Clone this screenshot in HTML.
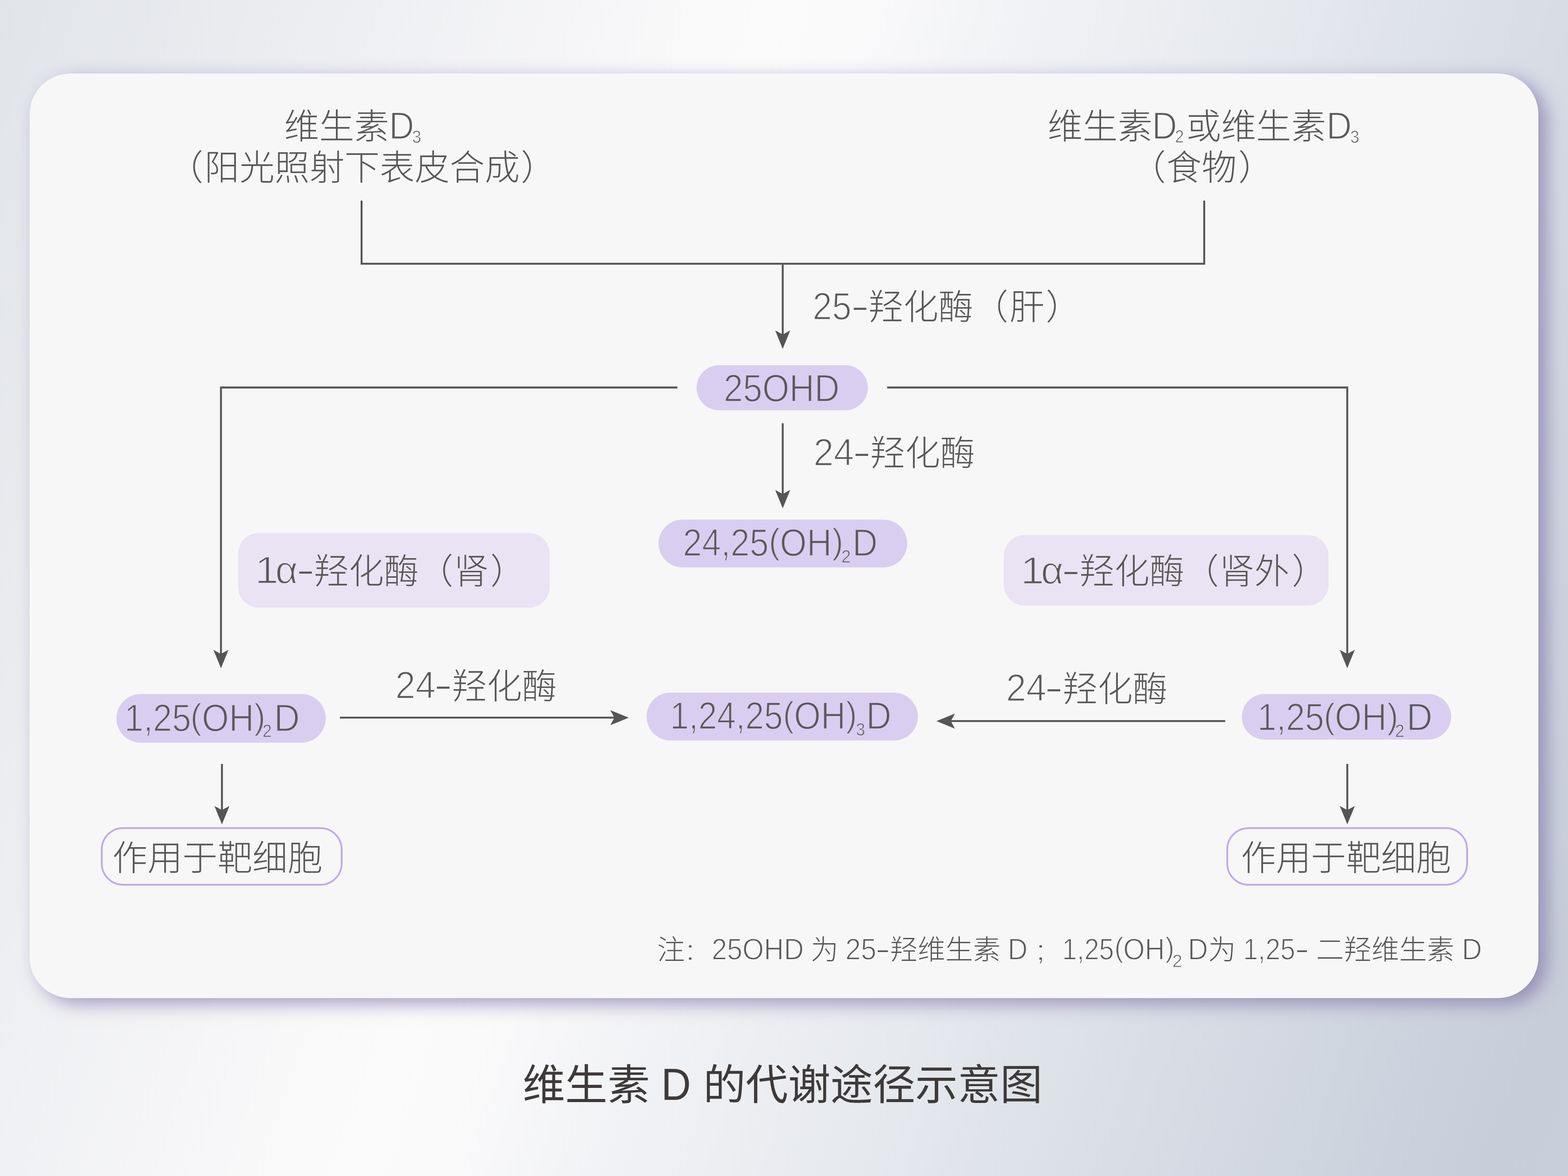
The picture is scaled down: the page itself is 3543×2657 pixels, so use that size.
<!DOCTYPE html>
<html lang="zh-CN">
<head>
<meta charset="utf-8">
<title>维生素 D 的代谢途径示意图</title>
<style>
html,body{margin:0;padding:0;background:#e9ebef}
body{width:3543px;height:2657px;overflow:hidden}
#stage{position:relative;width:3543px;height:2657px;overflow:hidden;font-family:"Liberation Sans","Noto Sans CJK SC",sans-serif;color:#595757;
background:linear-gradient(110deg,#e1e4e9 0%,#f6f6f8 30%,#fbfbfb 38.7%,#fafafb 43%,#f1f2f5 52%,#e5e8ed 65.3%,#d7dce5 78.6%,#cad1dc 92%,#c7ced9 96%,#c8cfda 100%)}
.card{position:absolute;left:67px;top:166px;width:3409px;height:2089px;border-radius:92px;background:#f7f7f7;
box-shadow:18px 13px 40px rgba(118,102,162,.62)}
.p{position:absolute;background:#d9cef0}
.q{background:#eae3f3}
.o{position:absolute;box-sizing:border-box;border:4px solid #c0abe6;border-radius:50px}
.w{position:absolute;left:0;top:0}
.c{position:absolute;overflow:visible;fill:#595757;stroke:none;font-family:"Liberation Sans","Noto Sans CJK SC",sans-serif;font-size:1000px;font-weight:300}
.t{fill:#3e3a39;font-weight:400}
.l{position:absolute;white-space:nowrap;line-height:1;transform-origin:0 0;font-kerning:none;font-variant-ligatures:none;will-change:transform}
.n{-webkit-text-stroke:0.026em var(--bg,#f7f7f7)}
</style>
</head>
<body>
<div id="stage">
<div class="card"></div>
<div class="p" style="left:1574.0px;top:825.0px;width:387.0px;height:102.0px;border-radius:51.0px"></div>
<div class="p" style="left:1487.6px;top:1174.2px;width:562.0px;height:107.7px;border-radius:54.0px"></div>
<div class="p" style="left:262.5px;top:1567.5px;width:473.3px;height:110.7px;border-radius:55.5px"></div>
<div class="p" style="left:1460.6px;top:1565.1px;width:613.1px;height:107.9px;border-radius:54.0px"></div>
<div class="p" style="left:2805.9px;top:1567.8px;width:473.3px;height:103.0px;border-radius:51.5px"></div>
<div class="p q" style="left:538.4px;top:1203.9px;width:703.3px;height:169.2px;border-radius:47.0px"></div>
<div class="p q" style="left:2267.9px;top:1208.7px;width:733.8px;height:159.0px;border-radius:47.0px"></div>
<div class="o" style="left:228.2px;top:1868.8px;width:546px;height:132.1px"></div>
<div class="o" style="left:2771.2px;top:1868.8px;width:545.7px;height:132.1px"></div>
<svg class="w" width="3543" height="2657" viewBox="0 0 3543 2657"><g fill="none" stroke="#565455" stroke-width="4.3" stroke-linejoin="miter"><path d="M817,453.2 V595.8 H2721 V453.2"/><path d="M1768.6,595.8 V758"/><path d="M1530.6,875.5 H499.3 V1480"/><path d="M2004.5,875.5 H3044.2 V1480"/><path d="M1768.6,956.3 V1119"/><path d="M768,1621.4 H1391"/><path d="M2768.5,1629.2 H2146"/><path d="M501.5,1726 V1833"/><path d="M3044.3,1726 V1833"/></g><g fill="#565455"><path d="M1768.6,788.2 l-17,-41.6 l17,9.2 l17,-9.2z"/><path d="M499.3,1509.8 l-17,-41.6 l17,9.2 l17,-9.2z"/><path d="M3044.2,1509.8 l-17,-41.6 l17,9.2 l17,-9.2z"/><path d="M1768.6,1148.6 l-17,-41.6 l17,9.2 l17,-9.2z"/><path d="M1420.7,1621.4 l-41.6,-17 l9.2,17 l-9.2,17z"/><path d="M2116.1,1629.2 l41.6,-17 l-9.2,17 l9.2,17z"/><path d="M501.5,1862.6 l-17,-41.6 l17,9.2 l17,-9.2z"/><path d="M3044.3,1862.6 l-17,-41.6 l17,9.2 l17,-9.2z"/></g></svg>
<svg class="c" style="left:641.70px;top:243.93px;width:237.51px;height:79.17px" viewBox="0 -880 3000 1000"><text x="0" y="0">维生素</text></svg>
<span class="l n" style="left:878.73px;top:240.57px;font-size:87.60px;transform:scaleX(0.8971)">D</span>
<span class="l n" style="left:930.98px;top:289.44px;font-size:40.50px;transform:scaleX(0.9257)">3</span>
<svg class="c" style="left:380.07px;top:337.33px;width:79.17px;height:79.17px" viewBox="0 -880 1000 1000"><text x="0" y="0">（</text></svg>
<svg class="c" style="left:462.48px;top:337.33px;width:712.53px;height:79.17px" viewBox="0 -880 9000 1000"><text x="0" y="0">阳光照射下表皮合成</text></svg>
<svg class="c" style="left:1176.56px;top:337.33px;width:79.17px;height:79.17px" viewBox="0 -880 1000 1000"><text x="0" y="0">）</text></svg>
<svg class="c" style="left:2366.50px;top:243.93px;width:237.51px;height:79.17px" viewBox="0 -880 3000 1000"><text x="0" y="0">维生素</text></svg>
<span class="l n" style="left:2603.45px;top:240.57px;font-size:87.60px;transform:scaleX(0.8950)">D</span>
<span class="l n" style="left:2655.02px;top:288.14px;font-size:40.50px;transform:scaleX(0.8909)">2</span>
<svg class="c" style="left:2680.46px;top:243.93px;width:316.68px;height:79.17px" viewBox="0 -880 4000 1000"><text x="0" y="0">或维生素</text></svg>
<span class="l n" style="left:2997.15px;top:240.57px;font-size:87.60px;transform:scaleX(0.9071)">D</span>
<span class="l n" style="left:3050.54px;top:289.44px;font-size:40.50px;transform:scaleX(0.8981)">3</span>
<svg class="c" style="left:2554.97px;top:337.33px;width:79.17px;height:79.17px" viewBox="0 -880 1000 1000"><text x="0" y="0">（</text></svg>
<svg class="c" style="left:2635.50px;top:337.33px;width:158.34px;height:79.17px" viewBox="0 -880 2000 1000"><text x="0" y="0">食物</text></svg>
<svg class="c" style="left:2798.16px;top:337.33px;width:79.17px;height:79.17px" viewBox="0 -880 1000 1000"><text x="0" y="0">）</text></svg>
<span class="l n" style="left:1836.20px;top:648.97px;font-size:87.60px;transform:scaleX(0.9027)">25</span>
<span class="l" style="left:1924.11px;top:663.79px;font-size:58.88px;transform:scaleX(1.9826)">-</span>
<svg class="c" style="left:1962.46px;top:652.33px;width:237.51px;height:79.17px" viewBox="0 -880 3000 1000"><text x="0" y="0">羟化酶</text></svg>
<svg class="c" style="left:2198.77px;top:652.33px;width:79.17px;height:79.17px" viewBox="0 -880 1000 1000"><text x="0" y="0">（</text></svg>
<svg class="c" style="left:2280.63px;top:652.33px;width:79.17px;height:79.17px" viewBox="0 -880 1000 1000"><text x="0" y="0">肝</text></svg>
<svg class="c" style="left:2362.86px;top:652.33px;width:79.17px;height:79.17px" viewBox="0 -880 1000 1000"><text x="0" y="0">）</text></svg>
<span class="l n" style="left:1634.73px;top:833.87px;font-size:87.60px;transform:scaleX(0.8971);--bg:#d9cef0">25OHD</span>
<span class="l n" style="left:1838.49px;top:978.97px;font-size:87.60px;transform:scaleX(0.9389)">24</span>
<span class="l" style="left:1928.01px;top:993.79px;font-size:58.88px;transform:scaleX(1.9826)">-</span>
<svg class="c" style="left:1966.36px;top:982.33px;width:237.51px;height:79.17px" viewBox="0 -880 3000 1000"><text x="0" y="0">羟化酶</text></svg>
<span class="l n" style="left:892.89px;top:1505.17px;font-size:87.60px;transform:scaleX(0.9389)">24</span>
<span class="l" style="left:982.41px;top:1519.99px;font-size:58.88px;transform:scaleX(1.9826)">-</span>
<svg class="c" style="left:1020.76px;top:1508.53px;width:237.51px;height:79.17px" viewBox="0 -880 3000 1000"><text x="0" y="0">羟化酶</text></svg>
<span class="l n" style="left:2272.79px;top:1511.37px;font-size:87.60px;transform:scaleX(0.9389)">24</span>
<span class="l" style="left:2362.31px;top:1526.19px;font-size:58.88px;transform:scaleX(1.9826)">-</span>
<svg class="c" style="left:2400.66px;top:1514.73px;width:237.51px;height:79.17px" viewBox="0 -880 3000 1000"><text x="0" y="0">羟化酶</text></svg>
<span class="l n" style="left:1542.90px;top:1182.57px;font-size:87.60px;transform:scaleX(0.8844);--bg:#d9cef0">24,25</span>
<span class="l n" style="left:1736.83px;top:1181.73px;font-size:80.14px;transform:scaleX(0.9598);--bg:#d9cef0">(</span>
<span class="l n" style="left:1762.14px;top:1182.57px;font-size:87.60px;transform:scaleX(0.8928);--bg:#d9cef0">OH</span>
<span class="l n" style="left:1880.05px;top:1181.73px;font-size:80.14px;transform:scaleX(0.9598);--bg:#d9cef0">)</span>
<span class="l n" style="left:1900.65px;top:1237.34px;font-size:40.50px;transform:scaleX(0.9542);--bg:#d9cef0">2</span>
<span class="l n" style="left:1926.30px;top:1182.57px;font-size:87.60px;transform:scaleX(0.9011);--bg:#d9cef0">D</span>
<span class="l n" style="left:575.91px;top:1245.27px;font-size:87.60px;transform:scaleX(1.0962);--bg:#eae3f3">1</span>
<span class="l n" style="left:622.23px;top:1245.27px;font-size:87.60px;transform:scaleX(1.0103);--bg:#eae3f3">α</span>
<span class="l" style="left:671.31px;top:1260.09px;font-size:58.88px;transform:scaleX(1.9826)">-</span>
<svg class="c" style="left:709.06px;top:1248.63px;width:237.51px;height:79.17px" viewBox="0 -880 3000 1000"><text x="0" y="0">羟化酶</text></svg>
<svg class="c" style="left:944.67px;top:1248.63px;width:79.17px;height:79.17px" viewBox="0 -880 1000 1000"><text x="0" y="0">（</text></svg>
<svg class="c" style="left:1024.98px;top:1248.63px;width:79.17px;height:79.17px" viewBox="0 -880 1000 1000"><text x="0" y="0">肾</text></svg>
<svg class="c" style="left:1108.46px;top:1248.63px;width:79.17px;height:79.17px" viewBox="0 -880 1000 1000"><text x="0" y="0">）</text></svg>
<span class="l n" style="left:2305.91px;top:1245.87px;font-size:87.60px;transform:scaleX(1.0962);--bg:#eae3f3">1</span>
<span class="l n" style="left:2352.23px;top:1245.87px;font-size:87.60px;transform:scaleX(1.0103);--bg:#eae3f3">α</span>
<span class="l" style="left:2400.12px;top:1260.69px;font-size:58.88px;transform:scaleX(2.0174)">-</span>
<svg class="c" style="left:2439.06px;top:1249.23px;width:237.51px;height:79.17px" viewBox="0 -880 3000 1000"><text x="0" y="0">羟化酶</text></svg>
<svg class="c" style="left:2674.67px;top:1249.23px;width:79.17px;height:79.17px" viewBox="0 -880 1000 1000"><text x="0" y="0">（</text></svg>
<svg class="c" style="left:2754.78px;top:1249.23px;width:158.34px;height:79.17px" viewBox="0 -880 2000 1000"><text x="0" y="0">肾外</text></svg>
<svg class="c" style="left:2918.56px;top:1249.23px;width:79.17px;height:79.17px" viewBox="0 -880 1000 1000"><text x="0" y="0">）</text></svg>
<span class="l n" style="left:280.64px;top:1578.77px;font-size:87.60px;transform:scaleX(0.8846);--bg:#d9cef0">1,25</span>
<span class="l n" style="left:430.30px;top:1577.50px;font-size:80.60px;transform:scaleX(0.9598);--bg:#d9cef0">(</span>
<span class="l n" style="left:455.75px;top:1578.77px;font-size:87.60px;transform:scaleX(0.8979);--bg:#d9cef0">OH</span>
<span class="l n" style="left:574.34px;top:1577.50px;font-size:80.60px;transform:scaleX(0.9598);--bg:#d9cef0">)</span>
<span class="l n" style="left:593.20px;top:1631.34px;font-size:40.50px;transform:scaleX(0.9369);--bg:#d9cef0">2</span>
<span class="l n" style="left:619.11px;top:1578.77px;font-size:87.60px;transform:scaleX(0.9233);--bg:#d9cef0">D</span>
<span class="l n" style="left:2840.54px;top:1577.47px;font-size:87.60px;transform:scaleX(0.8846);--bg:#d9cef0">1,25</span>
<span class="l n" style="left:2990.53px;top:1576.63px;font-size:80.14px;transform:scaleX(0.9598);--bg:#d9cef0">(</span>
<span class="l n" style="left:3015.84px;top:1577.47px;font-size:87.60px;transform:scaleX(0.8928);--bg:#d9cef0">OH</span>
<span class="l n" style="left:3133.75px;top:1576.63px;font-size:80.14px;transform:scaleX(0.9598);--bg:#d9cef0">)</span>
<span class="l n" style="left:3151.77px;top:1631.34px;font-size:40.50px;transform:scaleX(0.9484);--bg:#d9cef0">2</span>
<span class="l n" style="left:3178.46px;top:1577.47px;font-size:87.60px;transform:scaleX(0.9293);--bg:#d9cef0">D</span>
<span class="l n" style="left:1513.56px;top:1574.27px;font-size:87.60px;transform:scaleX(0.8723);--bg:#d9cef0">1,24,25</span>
<span class="l n" style="left:1768.86px;top:1573.80px;font-size:79.73px;transform:scaleX(0.9598);--bg:#d9cef0">(</span>
<span class="l n" style="left:1794.04px;top:1574.27px;font-size:87.60px;transform:scaleX(0.8883);--bg:#d9cef0">OH</span>
<span class="l n" style="left:1911.36px;top:1573.80px;font-size:79.73px;transform:scaleX(0.9598);--bg:#d9cef0">)</span>
<span class="l n" style="left:1934.08px;top:1628.44px;font-size:40.50px;transform:scaleX(0.9257);--bg:#d9cef0">3</span>
<span class="l n" style="left:1956.88px;top:1574.27px;font-size:87.60px;transform:scaleX(0.9031);--bg:#d9cef0">D</span>
<svg class="c" style="left:254.32px;top:1896.93px;width:475.02px;height:79.17px" viewBox="0 -880 6000 1000"><text x="0" y="0">作用于靶细胞</text></svg>
<svg class="c" style="left:2803.52px;top:1896.93px;width:475.02px;height:79.17px" viewBox="0 -880 6000 1000"><text x="0" y="0">作用于靶细胞</text></svg>
<svg class="c" style="left:1485.03px;top:2113.30px;width:62.50px;height:62.50px" viewBox="0 -880 1000 1000"><text x="0" y="0">注</text></svg>
<span class="l n" style="left:1548.06px;top:2113.53px;font-size:65.70px;transform:scaleX(1.2754)">:</span>
<span class="l n" style="left:1607.85px;top:2110.94px;font-size:68.80px;transform:scaleX(0.9078)">25OHD</span>
<svg class="c" style="left:1832.38px;top:2113.30px;width:62.50px;height:62.50px" viewBox="0 -880 1000 1000"><text x="0" y="0">为</text></svg>
<span class="l n" style="left:1910.20px;top:2110.94px;font-size:68.80px;transform:scaleX(0.9183)">25</span>
<span class="l" style="left:1979.38px;top:2121.78px;font-size:47.36px;transform:scaleX(2.0065)">-</span>
<svg class="c" style="left:2010.81px;top:2113.30px;width:250.00px;height:62.50px" viewBox="0 -880 4000 1000"><text x="0" y="0">羟维生素</text></svg>
<span class="l n" style="left:2277.48px;top:2110.94px;font-size:68.80px;transform:scaleX(0.9060)">D</span>
<span class="l n" style="left:2339.99px;top:2113.53px;font-size:65.70px;transform:scaleX(1.2448)">;</span>
<span class="l n" style="left:2400.44px;top:2110.94px;font-size:68.80px;transform:scaleX(0.8727)">1,25</span>
<span class="l n" style="left:2518.08px;top:2109.17px;font-size:64.14px;transform:scaleX(0.9598)">(</span>
<span class="l n" style="left:2538.34px;top:2110.94px;font-size:68.80px;transform:scaleX(0.9098)">OH</span>
<span class="l n" style="left:2632.72px;top:2109.17px;font-size:64.14px;transform:scaleX(0.9598)">)</span>
<span class="l n" style="left:2648.95px;top:2151.35px;font-size:40.00px;transform:scaleX(1.0068)">2</span>
<span class="l n" style="left:2684.11px;top:2110.94px;font-size:68.80px;transform:scaleX(0.9163)">D</span>
<svg class="c" style="left:2730.07px;top:2113.30px;width:62.50px;height:62.50px" viewBox="0 -880 1000 1000"><text x="0" y="0">为</text></svg>
<span class="l n" style="left:2808.51px;top:2110.94px;font-size:68.80px;transform:scaleX(0.8776)">1,25</span>
<span class="l" style="left:2926.58px;top:2121.78px;font-size:47.36px;transform:scaleX(1.9114)">-</span>
<svg class="c" style="left:2973.78px;top:2113.30px;width:312.50px;height:62.50px" viewBox="0 -880 5000 1000"><text x="0" y="0">二羟维生素</text></svg>
<span class="l n" style="left:3302.69px;top:2110.94px;font-size:68.80px;transform:scaleX(0.9189)">D</span>
<svg class="c t" style="left:1180.61px;top:2400.87px;width:287.49px;height:95.83px;fill:#3e3a39" viewBox="0 -880 3000 1000"><text x="0" y="0">维生素</text></svg>
<span class="l" style="left:1493.78px;top:2398.84px;font-size:102.00px;transform:scaleX(0.9104);color:#3e3a39">D</span>
<svg class="c t" style="left:1588.78px;top:2400.87px;width:766.64px;height:95.83px;fill:#3e3a39" viewBox="0 -880 8000 1000"><text x="0" y="0">的代谢途径示意图</text></svg>
</div>
</body>
</html>
